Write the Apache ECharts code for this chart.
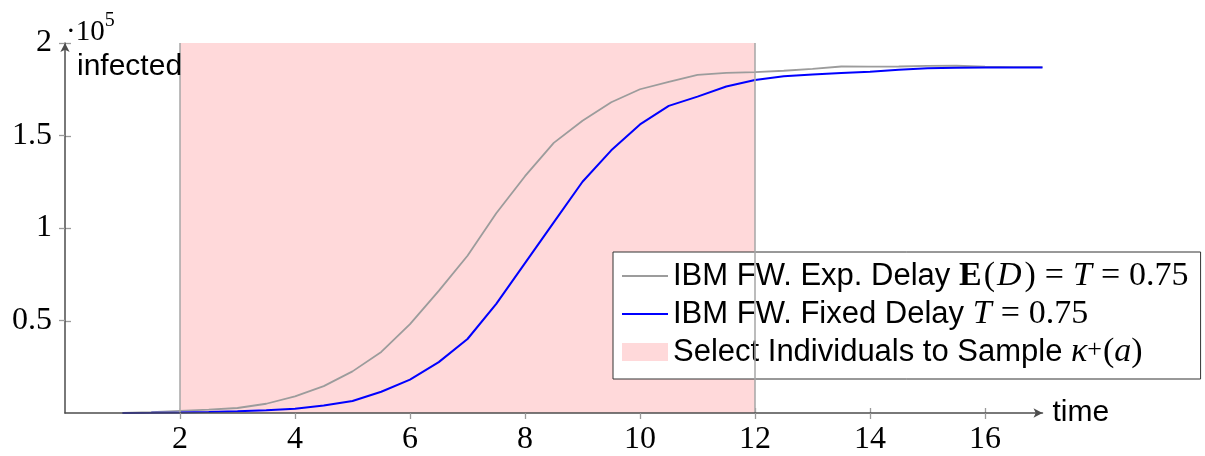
<!DOCTYPE html>
<html>
<head>
<meta charset="utf-8">
<script src="https://cdn.jsdelivr.net/npm/echarts@6/dist/echarts.min.js"></script>
<style>
html,body{margin:0;padding:0;background:#fff;}
#chart{width:1205px;height:456px;}
</style>
</head>
<body>
<div id="chart"></div>
<script>
// time (x) values
const tValues = [1,1.5,2,2.5,3,3.5,4,4.5,5,5.5,6,6.5,7,7.5,8,8.5,9,9.5,10,10.5,11,11.5,12,12.5,13,13.5,14,14.5,15,15.5,16,16.5,17];
// infected, in units of 10^5
const expDelayValues = [0,0.005,0.012,0.018,0.027,0.05,0.09,0.145,0.225,0.33,0.48,0.66,0.85,1.08,1.28,1.46,1.58,1.68,1.75,1.79,1.828,1.838,1.843,1.85,1.86,1.873,1.872,1.873,1.876,1.877,1.872,1.87,1.87];
const fixedDelayValues = [0,0.001,0.003,0.006,0.01,0.015,0.023,0.04,0.065,0.115,0.18,0.275,0.40,0.59,0.81,1.03,1.25,1.42,1.56,1.66,1.71,1.765,1.80,1.82,1.83,1.838,1.845,1.855,1.863,1.866,1.867,1.868,1.867];
const sampleWindow = [2, 12];
const xTicks = [2,4,6,8,10,12,14,16];
const yTicks = [0.5,1,1.5,2];
const yTickLabels = ['0.5','1','1.5','2'];
const seriesNames = ['IBM FW. Exp. Delay E(D) = T = 0.75','IBM FW. Fixed Delay T = 0.75','Select Individuals to Sample κ+(a)'];

const legendLabels = {};
legendLabels[seriesNames[0]] = '{s|IBM FW. Exp. Delay }{b|E}{m|(}{d|D}{m|)}{e|=}{i|T}{e|=}{m|0.75}';
legendLabels[seriesNames[1]] = '{s|IBM FW. Fixed Delay }{i|T}{e|=}{m|0.75}';
legendLabels[seriesNames[2]] = '{s|Select Individuals to Sample }{i|κ}{sup|+}{m|(}{i|a}{m|)}';

const pink = '#ffd9da';
const grayLine = '#9c9c9c';
const blueLine = '#0000ff';
const axisColor = '#4d4d4d';
const tickColor = '#9a9a9a';
const SANS = 'Liberation Sans';
const SERIF = 'Liberation Serif';
const lineIcon = 'path://M0,0h46v2h-46z';

const chart = echarts.init(document.getElementById('chart'), null, {renderer:'canvas'});
const gridPos = {left:65, top:43, width:977.5, height:371};

const option = {
  animation:false,
  grid:[Object.assign({}, gridPos), Object.assign({}, gridPos)],
  xAxis:[{
    gridIndex:0, type:'value', min:0, max:17, z:10,
    axisLine:{show:true, onZero:false, symbol:['none','arrow'], symbolSize:[7,9], lineStyle:{color:axisColor, width:1.5}},
    axisTick:{show:true, customValues:xTicks, length:6, lineStyle:{color:tickColor, width:1.3}},
    axisLabel:{customValues:xTicks, formatter:v=>String(v), fontFamily:SERIF, fontSize:32, color:'#000', margin:11},
    splitLine:{show:false},
    name:'time', nameLocation:'end', nameGap:10,
    nameTextStyle:{fontFamily:SANS, fontSize:30, color:'#000', align:'left', verticalAlign:'middle'}
  },{
    gridIndex:1, type:'value', min:0, max:17, z:0,
    axisLine:{show:false},
    axisTick:{show:true, inside:true, customValues:xTicks, length:6, lineStyle:{color:tickColor, width:1.3}},
    axisLabel:{show:false}, splitLine:{show:false}
  }],
  yAxis:[{
    gridIndex:0, type:'value', min:0, max:2, z:10,
    axisLine:{show:true, onZero:false, symbol:['none','arrow'], symbolSize:[7,9], lineStyle:{color:axisColor, width:1.5}},
    axisTick:{show:true, customValues:yTicks, length:6, lineStyle:{color:tickColor, width:1.3}},
    axisLabel:{customValues:yTicks, formatter:v=>yTickLabels[yTicks.indexOf(v)] || '', fontFamily:SERIF, fontSize:32, color:'#000', margin:13},
    splitLine:{show:false},
    name:'infected', nameLocation:'end', nameGap:-24,
    nameTextStyle:{fontFamily:SANS, fontSize:30, color:'#000', align:'left', verticalAlign:'middle', padding:[0,0,0,12]}
  },{
    gridIndex:1, type:'value', min:0, max:2, z:0,
    axisLine:{show:false},
    axisTick:{show:true, inside:true, customValues:yTicks, length:6, lineStyle:{color:tickColor, width:1.3}},
    axisLabel:{show:false}, splitLine:{show:false}
  }],
  legend:{
    orient:'vertical', left:613, top:252,
    itemWidth:46, itemHeight:18, itemGap:4,
    padding:[7,12,4,9],
    backgroundColor:'#fff', borderColor:'#333', borderWidth:1,
    data:[
      {name:seriesNames[0], icon:lineIcon, itemStyle:{color:grayLine}},
      {name:seriesNames[1], icon:lineIcon, itemStyle:{color:blueLine}},
      {name:seriesNames[2], icon:'rect', itemStyle:{color:pink}}
    ],
    formatter:name=>legendLabels[name],
    textStyle:{
      fontFamily:SANS, fontSize:31, color:'#000', lineHeight:30,
      rich:{
        s:{fontFamily:SANS, fontSize:31, color:'#000', lineHeight:30},
        m:{fontFamily:SERIF, fontSize:34, color:'#000', lineHeight:30},
        e:{fontFamily:SERIF, fontSize:34, color:'#000', lineHeight:30, padding:[0,9,0,9]},
        i:{fontFamily:SERIF, fontSize:34, fontStyle:'italic', color:'#000', lineHeight:30},
        d:{fontFamily:SERIF, fontSize:34, fontStyle:'italic', color:'#000', lineHeight:30, padding:[0,3,0,2]},
        b:{fontFamily:SERIF, fontSize:34, fontWeight:'bold', color:'#000', lineHeight:30, padding:[0,2,0,0]},
        sup:{fontFamily:SERIF, fontSize:26, color:'#000', lineHeight:30, verticalAlign:'top', padding:[0,1,12,0]}
      }
    }
  },
  graphic:[{
    type:'text', left:66, top:11, z:20,
    style:{
      text:'{a|·10}{b|5}',
      rich:{
        a:{fontFamily:SERIF, fontSize:29, fill:'#000', lineHeight:36, verticalAlign:'bottom'},
        b:{fontFamily:SERIF, fontSize:20, fill:'#000', lineHeight:36, verticalAlign:'top'}
      }
    }
  }],
  series:[{
    name:seriesNames[2], type:'line', xAxisIndex:0, yAxisIndex:0, data:[], symbol:'none',
    itemStyle:{color:pink}, lineStyle:{color:pink},
    markArea:{silent:true, itemStyle:{color:pink}, data:[[{xAxis:sampleWindow[0]},{xAxis:sampleWindow[1]}]]},
    markLine:{silent:true, symbol:'none', label:{show:false}, lineStyle:{color:'#a6a6a6', width:1.5, type:'solid'},
      data:[{xAxis:sampleWindow[0]},{xAxis:sampleWindow[1]}]}
  },{
    name:seriesNames[0], type:'line', xAxisIndex:0, yAxisIndex:0, symbol:'none', showSymbol:false,
    data:tValues.map((t,i)=>[t, expDelayValues[i]]),
    itemStyle:{color:grayLine}, lineStyle:{color:grayLine, width:1.8}, z:3
  },{
    name:seriesNames[1], type:'line', xAxisIndex:0, yAxisIndex:0, symbol:'none', showSymbol:false,
    data:tValues.map((t,i)=>[t, fixedDelayValues[i]]),
    itemStyle:{color:blueLine}, lineStyle:{color:blueLine, width:2}, z:4
  }]
};
chart.setOption(option);
</script>
</body>
</html>
